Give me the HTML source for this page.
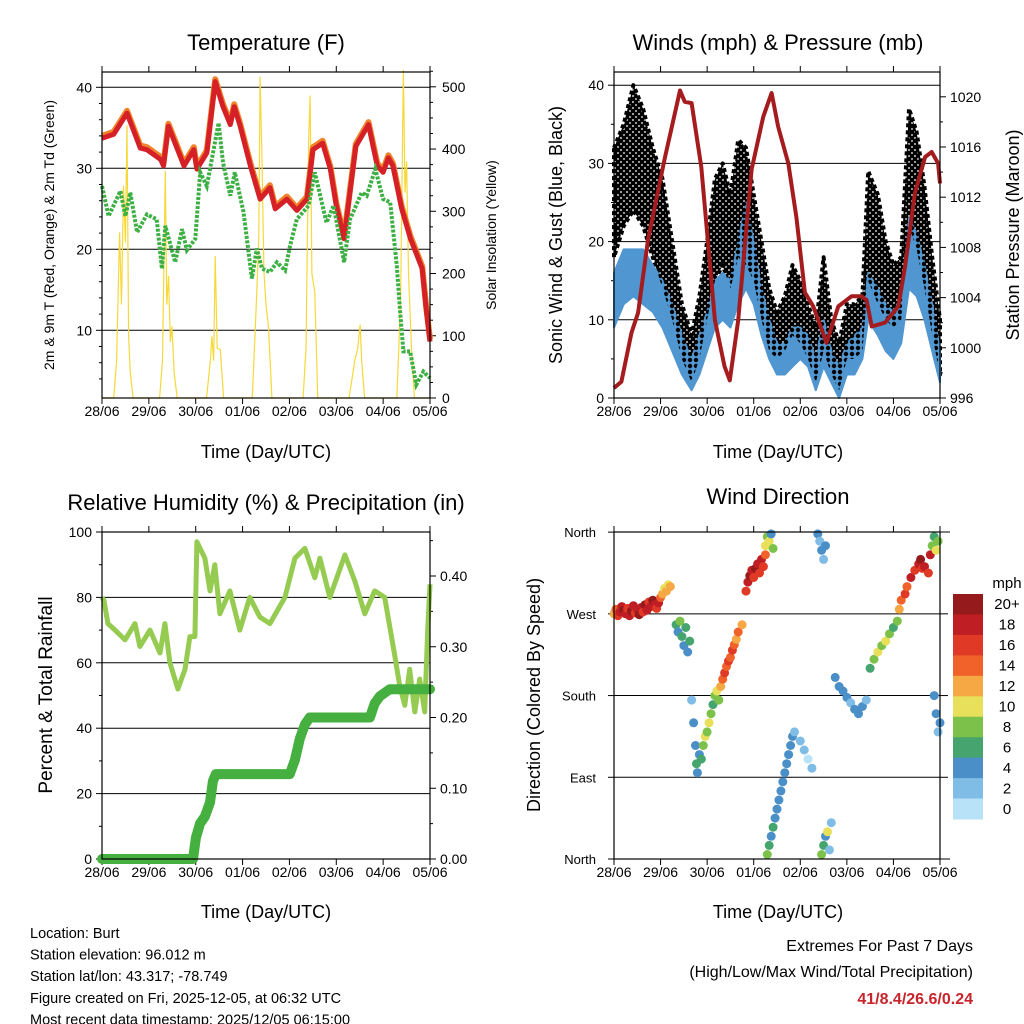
<!DOCTYPE html>
<html><head><meta charset="utf-8"><style>
html,body{margin:0;padding:0;background:#fff;}
svg{display:block;font-family:"Liberation Sans",sans-serif;}
</style></head><body>
<svg id="c" width="1024" height="1024" viewBox="0 0 1024 1024" xmlns="http://www.w3.org/2000/svg">
<defs>
<pattern id="dots" width="6" height="6" patternUnits="userSpaceOnUse"><circle cx="3" cy="3" r="2.4" fill="#000"/></pattern>
<pattern id="dots2" width="6" height="6" patternUnits="userSpaceOnUse" x="3" y="3"><circle cx="3" cy="3" r="2.2" fill="#000"/></pattern>
</defs>
</svg>
<script>
// ---------- data ----------
const dayLabels = ["28/06","29/06","30/06","01/06","02/06","03/06","04/06","05/06"];
const tempT = [0,6,12.8,19.6,23,30,31.5,34,42,47,48.6,53.7,58,62,65.7,67.7,70.8,76,81,86,88.7,94.7,99.8,105,108,113,117,120,124,130,136.5,141,144,146.7,149,153.5,158,164,166,168];
const tempV = [33.7,34.2,36.8,32.5,32.3,31.1,30.3,35.2,30.3,32.3,29.9,31.9,40.7,37.6,35.4,37.6,35.2,30.3,26.2,27.6,25,26.2,24.8,26.2,32.3,33.1,29.9,25.4,21.3,32.7,35.4,30.3,29.5,31.3,30.3,25,21.3,17.6,12.7,8.6];
const dewT = [0,3.4,9.4,12,14.5,18,23,28,30.7,32.4,37.5,41,43.5,47.8,50.3,53.7,59.7,62,65.7,68,72.5,76.8,79.3,82,86,89.6,93.8,96.4,99.8,105.8,109,115,118.6,124,127,133,135.6,140,144,147.6,151,152.7,154.4,157.8,161,164.6,168];
const dewV = [27.8,24.1,27.2,24.1,27,22.1,24.3,23.7,17.6,22.9,18.4,22.5,19.9,21.3,29.5,27.8,35.6,30.7,26.6,29.5,24.6,16.4,20.1,17.6,17.2,18.4,17.4,20.5,23.7,25.4,29.5,23.3,25.4,18.4,23.7,27,26.6,29.9,26.2,25.8,18,12.3,7.4,7.4,3.3,4.9,4.1];
const solarT = [0,6,7.5,9,10,11,12,12.8,13.6,14.5,16,29.5,31,32.4,33.2,34.1,35,35.8,37,38.5,53.5,55.5,56.3,57.2,58,59,60.6,62.3,77,79.3,80.3,81,81.9,83,84,85.3,87,103,104.5,105.8,106.6,107.5,109,110.5,126.5,128.5,129.6,131,132.2,133,134.5,151,152,153,154.4,155.2,156,157,158.5,160,168];
const solarV = [0,0,60,266,150,341,250,438,99,40,0,0,60,365,150,196,90,115,40,0,0,60,99,60,228,80,78,0,0,170,260,516,390,200,150,115,0,0,80,411,486,200,170,0,0,40,62,80,118,60,0,0,80,170,527,330,380,200,80,0,0];
const presT = [0,3.8,9,12.4,17.5,26,34,36.5,40,45,52,57,59.7,64,70.9,76.9,81.2,84.6,89.8,94,98.4,102.7,109.5,115.6,122.4,127.6,130.2,132.8,139.6,146.5,150,155,160.3,163.7,167,168];
const presV = [996.8,997.3,1001.2,1002.8,1008.6,1015,1020.5,1019.6,1019.5,1014.4,1002.2,998.5,997.4,1002.2,1014.2,1018.4,1020.3,1017.6,1014.7,1010.4,1004.4,1003.3,1000.4,1003.3,1004.1,1004.1,1003.8,1001.7,1002,1003.3,1006.5,1012.3,1015.2,1015.6,1014.7,1013.1];
const windT = [0,5,10,15,20,25,30,35,40,44,48,52,56,60,64,68,72,76,80,84,88,92,96,100,104,108,112,116,120,124,128,131,136,140,144,148,152,156,160,164,168];
const windLo = [9,12,13,12,11,9,6,3,1,3,6,9,10,9,12,14,12,8,5,3,3,4,5,4,1,4,2,0,3,3,5,10,8,6,5,7,14,13,10,6,2];
const windHi = [16,19,19,19,17,15,12,8,5,8,11,15,16,15,20,25,20,14,10,7,7,9,9,8,5,10,6,4,7,8,9,16,14,12,11,13,23,21,17,12,6];
const gustLo = [18,22,24,22,18,14,10,5,2,5,10,15,17,14,18,17,15,10,6,5,6,8,7,5,2,6,3,1,5,5,6,15,12,10,9,10,22,19,14,8,3];
const gustHi = [32,35,40,37,32,28,20,12,8,13,20,28,30,26,33,32,26,20,14,11,13,17,15,12,9,18,10,7,12,12,13,29,26,20,17,18,37,34,27,18,10];
const rhT = [0,1,3,6.7,11.8,16.9,19.4,24.6,29.7,32.2,34.8,38.9,42.5,45,47.6,48.6,52.7,55.3,57.8,60.4,65.5,70.6,75.7,80.9,86,93.7,98.8,103.9,109,111.6,116.7,124.4,129.5,134.6,139.7,144.8,150,152.5,155.1,157.6,160.2,162.7,165.3,166.8,168];
const rhV = [80,79,72,70,67,72,65,70,63,72,60,52,58,68,68,97,92,82,90,75,82,70,80,74,72,80,92,95,86,92,80,93,85,75,82,80,62,53,47,58,45,55,45,70,84];
const rainT = [0,46.6,48.1,50.2,52.7,55.3,56.8,58.3,96.2,98.8,101.3,103.9,106.4,137.2,139.7,142.3,147.4,168];
const rainV = [0,0,0.03,0.05,0.06,0.08,0.11,0.12,0.12,0.14,0.17,0.19,0.2,0.2,0.22,0.23,0.24,0.24];
const dirT = [0,1,2,3,4,5,6,7,8,9,10,11,12,13,14,15,16,17,18,19,20,21,22,23,24,25,26,27,28,29,32,33,34,35,36,37,38,39,40,41,42,42.5,43,44,45,46,47,48,49,50,51,52,53,54,55,56,57,58,59,60,61,62,63,64,66,68,69,70,71,72,73,74,75,76,77,78,78,79,80,81,82,79,80,81,82,83,84,85,86,87,88,89,90,91,92,93,96,98,100,102,105,106,107,108,109,107,108,109,110,111,112,114,116,118,120,122,124,126,128,130,132,134,136,138,140,142,144,146,147,148,150,151,153,155,157,159,158,160,162,163,164,165,166,167,165,166,167,168];
const dirV = [270,275,268,272,278,274,270,276,268,273,279,271,275,269,277,272,280,274,283,278,285,280,276,282,288,292,298,295,302,300,258,250,262,245,235,255,228,240,175,150,125,105,95,115,110,125,135,140,150,160,170,180,185,175,190,198,205,212,218,222,230,236,242,250,258,295,305,312,318,310,320,325,315,330,322,335,345,355,350,358,342,5,15,25,35,45,55,65,75,85,95,105,115,125,135,140,130,120,110,100,358,350,340,330,345,5,15,25,30,10,40,200,190,185,178,172,165,160,168,175,210,220,228,235,240,248,255,262,275,285,292,300,310,318,325,320,330,322,315,335,345,355,340,350,180,160,140,150];
const dirS = [12,14,16,18,18,20,18,16,18,20,18,16,18,20,18,16,20,18,16,18,20,18,16,18,14,12,10,12,10,12,6,4,8,6,4,6,4,6,2,4,4,6,4,4,6,8,10,8,10,8,6,8,10,8,12,14,16,14,16,14,16,14,12,14,12,16,18,20,18,16,20,18,16,18,16,14,10,8,10,4,8,8,6,4,6,4,4,4,4,4,4,4,4,4,4,2,2,2,0,2,4,2,4,2,4,8,6,4,10,2,2,4,4,4,4,2,4,4,4,2,6,8,10,8,10,8,6,8,12,14,16,14,18,16,18,16,20,18,16,18,8,6,10,8,4,4,2,4];
const spdBins = ["20+","18","16","14","12","10","8","6","4","2","0"];
const spdColors = ["#951a1c","#bf1e24","#e03a26","#f0622a","#f6a844","#e8e05a","#7cc24a","#46a56e","#4a8fc8","#7fbce6","#b8e2f8"];

// ---------- helpers ----------
const svg = document.getElementById('c');
const NS = 'http://www.w3.org/2000/svg';
function mk(tag, attrs, parent){ const e=document.createElementNS(NS,tag); for(const k in attrs) e.setAttribute(k,attrs[k]); (parent||svg).appendChild(e); return e; }
function txt(x,y,s,size,anchor,extra){ const t=mk('text',Object.assign({x:x,y:y,'font-size':size,'text-anchor':anchor||'middle',fill:'#000'},extra||{})); t.textContent=s; return t; }
function pts(T,V,fx,fy){ return T.map((t,i)=>fx(t).toFixed(1)+','+fy(V[i]).toFixed(1)).join(' '); }

const P = {
  p1:{x0:102,x1:430,y0:72,y1:398},
  p2:{x0:614,x1:940,y0:72,y1:398},
  p3:{x0:102,x1:430,y0:532,y1:859},
  p4:{x0:614,x1:940,y0:532,y1:859}
};
function xS(p){ return h => p.x0 + h*(p.x1-p.x0)/168; }
const x1s=xS(P.p1), x2s=xS(P.p2), x3s=xS(P.p3), x4s=xS(P.p4);
const yT = v => 87.3 + (40-v)*8.1;
const ySol = s => 398 - s*0.6224;
const yW = v => 398 - v*7.82;
const yP = p => 398 - (p-996)*12.55;
const yRH = r => 859 - r*3.27;
const yRain = r => 859 - r*707.5;
const yDir = d => 859 - d*0.908;

function frame(p, name){
  const g = mk('g',{});
  
  
  const xs = xS(p);
  for(let d=0; d<=7; d++){
    const x = xs(d*24);
    mk('line',{x1:x,x2:x,y1:p.y1,y2:p.y1+6,stroke:'#000','stroke-width':1},g);
    mk('line',{x1:x,x2:x,y1:p.y0,y2:p.y0-6,stroke:'#000','stroke-width':1},g);
    const t = txt(x, p.y1+18, dayLabels[d], 14);
    
    
  }
  return g;
}
function box(p){ mk('rect',{x:p.x0,y:p.y0,width:p.x1-p.x0,height:p.y1-p.y0,fill:'none',stroke:'#000','stroke-width':1.2}); }
function hgrid(p,y){ mk('line',{x1:p.x0,x2:p.x1,y1:y,y2:y,stroke:'#000','stroke-width':1}); }
function ytick(x,y,side,len){ mk('line',{x1:x,x2:x+(side<0?-len:len),y1:y,y2:y,stroke:'#000','stroke-width':1}); }

// ---------- Panel 1: Temperature ----------
(function(){
  const p=P.p1; frame(p,'temperature-panel');
  const tl=txt(266,50,'Temperature (F)',22);  
  [40,30,20,10].forEach(v=>{ hgrid(p,yT(v)); ytick(p.x0,yT(v),-1,6); txt(p.x0-10,yT(v)+5,String(v),14,'end'); });
  for(let v=4; v<=41; v+=2){ if(v%10) ytick(p.x0,yT(v),-1,3); }
  [0,100,200,300,400,500].forEach(v=>{ ytick(p.x1,ySol(v),1,6); txt(p.x1+12,ySol(v)+5,String(v),14,'start'); });
  for(let v=25; v<=525; v+=25){ if(v%100) ytick(p.x1,ySol(v),1,3); }
  const sol=mk('polyline',{points:pts(solarT,solarV,x1s,ySol),fill:'none',stroke:'#f7d83a','stroke-width':1.2});
   
  const o=mk('polyline',{points:pts(tempT,tempV.map(v=>v+0.3),x1s,yT),fill:'none',stroke:'#f0822a','stroke-width':6,'stroke-linejoin':'round'});
   
  const r=mk('polyline',{points:pts(tempT,tempV,x1s,yT),fill:'none',stroke:'#d42026','stroke-width':5,'stroke-linejoin':'round'});
   
  const d=mk('polyline',{points:pts(dewT,dewV,x1s,yT),fill:'none',stroke:'#3db043','stroke-width':4,'stroke-dasharray':'3 1.5'});
   
  box(p);
  const xl=txt(266,458,'Time (Day/UTC)',18);  
  const yl=txt(0,0,'2m & 9m T (Red, Orange) & 2m Td (Green)',14,'middle',{transform:'translate(54,235) rotate(-90)'});  
  const yr=txt(0,0,'Solar Insolation (Yellow)',14,'middle',{transform:'translate(496,235) rotate(-90)'});  
})();

// ---------- Panel 2: Winds ----------
(function(){
  const p=P.p2; frame(p,'winds-panel');
  const tl=txt(778,50,'Winds (mph) & Pressure (mb)',22);  
  [40,30,20,10].forEach(v=>hgrid(p,yW(v)));
  [0,10,20,30,40].forEach(v=>{ ytick(p.x0,yW(v),-1,6); txt(p.x0-10,yW(v)+5,String(v),14,'end'); });
  for(let v=5; v<=40; v+=10) ytick(p.x0,yW(v),-1,3);
  for(let v=996; v<=1020; v+=4){ ytick(p.x1,yP(v),1,6); txt(p.x1+10,yP(v)+5,String(v),14,'start'); }
  for(let v=998; v<=1020; v+=4) ytick(p.x1,yP(v),1,3);
  function band(lo,hi,fill,stroke,name,w){
    const up = windT.map((t,i)=>x2s(t).toFixed(1)+','+yW(hi[i]).toFixed(1));
    const dn = windT.map((t,i)=>x2s(t).toFixed(1)+','+yW(lo[i]).toFixed(1)).reverse();
    const e=mk('polygon',{points:up.concat(dn).join(' '),fill:fill,stroke:stroke,'stroke-width':w,'stroke-linejoin':'round','stroke-dasharray':stroke==='#000'?'4 3':'none'});
     
  }
  band(gustLo,gustHi,'url(#dots)','#000','gust-scatter',4);
  band(windLo,windHi,'#5096d0','#5096d0','wind-band',2);
  band(gustLo,gustHi,'url(#dots2)','none','gust-scatter-front',0);
  const pr=mk('polyline',{points:pts(presT,presV,x2s,yP),fill:'none',stroke:'#a51c1f','stroke-width':4,'stroke-linejoin':'round'});
   
  box(p);
  const xl=txt(778,458,'Time (Day/UTC)',18);  
  const yl=txt(0,0,'Sonic Wind & Gust (Blue, Black)',18,'middle',{transform:'translate(562,235) rotate(-90)'});  
  const yr=txt(0,0,'Station Pressure (Maroon)',18,'middle',{transform:'translate(1019,235) rotate(-90)'});  
})();

// ---------- Panel 3: RH & Precip ----------
(function(){
  const p=P.p3; frame(p,'humidity-panel');
  const tl=txt(266,510,'Relative Humidity (%) & Precipitation (in)',22);  
  [20,40,60,80].forEach(v=>hgrid(p,yRH(v)));
  [0,20,40,60,80,100].forEach(v=>{ ytick(p.x0,yRH(v),-1,6); txt(p.x0-10,yRH(v)+5,String(v),14,'end'); });
  for(let v=10; v<100; v+=20) ytick(p.x0,yRH(v),-1,3);
  [0,0.1,0.2,0.3,0.4].forEach(v=>{ ytick(p.x1,yRain(v),1,6); txt(p.x1+10,yRain(v)+5,v.toFixed(2),14,'start'); });
  for(let v=0.05; v<0.46; v+=0.1) ytick(p.x1,yRain(v),1,3);
  const rh=mk('polyline',{points:pts(rhT,rhV,x3s,yRH),fill:'none',stroke:'#96cb52','stroke-width':5,'stroke-linejoin':'round'});
   
  const rn=mk('polyline',{points:pts(rainT,rainV,x3s,yRain),fill:'none',stroke:'#45b03f','stroke-width':10,'stroke-linejoin':'round','stroke-linecap':'round'});
   
  box(p);
  const xl=txt(266,918,'Time (Day/UTC)',18);  
  const yl=txt(0,0,'Percent & Total Rainfall',19,'middle',{transform:'translate(52,695) rotate(-90)'});  
})();

// ---------- Panel 4: Wind direction ----------
(function(){
  const p=P.p4; frame(p,'wind-direction-panel');
  const tl=txt(778,504,'Wind Direction',22);  
  [90,180,270].forEach(v=>hgrid(p,yDir(v)));
  [[0,'North'],[90,'East'],[180,'South'],[270,'West'],[360,'North']].forEach(a=>{ ytick(p.x0,yDir(a[0]),-1,6); txt(p.x0-18,yDir(a[0])+5,a[1],13,'end'); });
  mk('line',{x1:p.x1,x2:p.x1+10,y1:p.y0,y2:p.y0,stroke:'#000'}); mk('line',{x1:p.x1,x2:p.x1+10,y1:p.y1,y2:p.y1,stroke:'#000'});
  [90,180,270].forEach(v=>mk('line',{x1:p.x1,x2:p.x1+8,y1:yDir(v),y2:yDir(v),stroke:'#000'}));
  function spdColor(s){ let i = 10 - Math.min(10, Math.floor(s/2)); return spdColors[i]; }
  dirT.forEach((t,i)=>{
    const c=mk('circle',{cx:x4s(t).toFixed(1),cy:yDir(dirV[i]).toFixed(1),r:4.5,fill:spdColor(dirS[i])});
    
    
  });
  box(p);
  const xl=txt(778,918,'Time (Day/UTC)',18);  
  const yl=txt(0,0,'Direction (Colored By Speed)',18,'middle',{transform:'translate(540,695) rotate(-90)'});  
  const mph=txt(1007,588,'mph',15);  
  const bh=(819-594)/11;
  spdBins.forEach((lab,i)=>{
    const r=mk('rect',{x:953,y:(594+i*bh).toFixed(1),width:30,height:(bh+0.5).toFixed(1),fill:spdColors[i]});
     
    const t=txt(1007,594+i*bh+bh/2+5,lab,15);  
  });
})();

// ---------- footer ----------
["Location: Burt","Station elevation: 96.012 m","Station lat/lon: 43.317; -78.749","Figure created on Fri, 2025-12-05, at 06:32 UTC","Most recent data timestamp: 2025/12/05 06:15:00"].forEach((s,i)=>{
  const t=txt(30,938+i*21.6,s,14.5,'start');  
});
const e1=txt(973,951,'Extremes For Past 7 Days',16,'end');  
const e2=txt(973,977,'(High/Low/Max Wind/Total Precipitation)',16,'end');  
const e3=txt(973,1004,'41/8.4/26.6/0.24',16,'end',{fill:'#c8242b','font-weight':'bold'});  
</script>
</body></html>
